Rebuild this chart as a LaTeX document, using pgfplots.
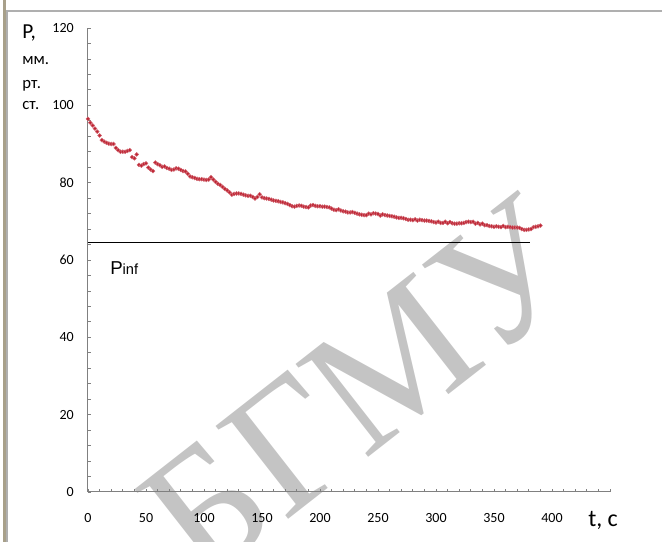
\documentclass[border=0pt]{standalone}
\usepackage{fontspec}
\setmainfont{Carlito}
\newfontfamily\arialf{Liberation Sans}
\newfontfamily\timesf{Liberation Serif}
\usepackage{pgfplots}
\pgfplotsset{compat=1.18}
\usepackage{pgfplotstable}

\definecolor{datared}{RGB}{190,35,50}
\definecolor{axgray}{RGB}{128,128,128}
\definecolor{wmgray}{RGB}{196,196,196}
\definecolor{framegray}{RGB}{175,175,175}
\definecolor{tan}{RGB}{168,160,138}

% t (s), P (mm Hg)
\pgfplotstableread{
t P
0 96.5
2 95.5
4 94.8
6 94.0
8 93.2
10 92.2
12 91.0
14 90.6
16 90.3
18 90.1
20 90.0
22 90.0
24 89.0
26 88.4
28 88.0
30 88.0
32 88.0
34 88.2
36 88.4
38 86.6
40 86.3
42 87.3
44 84.6
46 84.4
48 84.8
50 85.0
52 83.9
54 83.4
56 83.0
58 85.2
60 84.8
62 84.5
64 84.1
66 84.2
68 83.8
70 83.6
72 83.3
74 83.4
76 83.7
78 83.6
80 83.3
82 83.0
84 82.9
86 82.3
88 81.6
90 81.4
92 81.2
94 81.0
96 80.9
98 80.9
100 80.8
102 80.7
104 80.8
106 81.4
108 80.8
110 80.2
112 79.7
114 79.4
116 78.9
118 78.4
120 78.0
122 77.5
124 76.9
126 77.1
128 77.2
130 77.2
132 77.1
134 76.9
136 76.7
138 76.6
140 76.6
142 76.3
144 75.9
146 76.3
148 77.0
150 76.2
152 76.0
154 75.9
156 75.8
158 75.6
160 75.4
162 75.3
164 75.2
166 75.0
168 74.9
170 74.7
172 74.5
174 74.2
176 73.9
178 73.8
180 74.0
182 74.1
184 74.0
186 73.8
188 73.7
190 73.6
192 74.1
194 74.2
196 74.0
198 73.9
200 73.9
202 73.8
204 73.8
206 73.7
208 73.6
210 73.3
212 73.0
214 72.9
216 73.1
218 72.8
220 72.6
222 72.5
224 72.3
226 72.3
228 72.4
230 72.2
232 72.0
234 71.8
236 71.7
238 71.6
240 71.6
242 72.0
244 71.8
246 72.1
248 72.0
250 71.9
252 71.5
254 71.8
256 71.6
258 71.5
260 71.4
262 71.3
264 71.2
266 71.0
268 70.9
270 70.9
272 70.8
274 70.6
276 70.4
278 70.4
280 70.3
282 70.5
284 70.2
286 70.4
288 70.3
290 70.2
292 70.2
294 70.1
296 70.0
298 69.8
300 69.7
302 69.9
304 69.6
306 69.6
308 69.9
310 69.5
312 69.8
314 69.5
316 69.4
318 69.4
320 69.5
322 69.5
324 69.6
326 69.8
328 69.9
330 69.8
332 69.9
334 69.4
336 69.6
338 69.2
340 69.4
342 69.0
344 69.0
346 68.8
348 68.7
350 68.6
352 68.7
354 68.6
356 68.5
358 68.8
360 68.5
362 68.6
364 68.5
366 68.4
368 68.4
370 68.4
372 68.3
374 68.0
376 67.8
378 67.8
380 67.9
382 68.0
384 68.5
386 68.6
388 68.7
390 68.9
}\pressure

\begin{document}
\begin{tikzpicture}
% page = 662x542 px, 1px = 0.75pt, axis origin at pixel (88,492)
\useasboundingbox (-66pt,-37.5pt) rectangle (430.5pt,369pt);
\fill[tan] (-63.75pt,-37.5pt) rectangle (-61.5pt,369pt);
\draw[framegray, line width=1pt] (-60.75pt,-37.5pt) -- (-60.75pt,360.75pt) -- (430.5pt,360.75pt);
\node[rotate=38, text=wmgray, inner sep=0pt] at (204.75pt,77.25pt)
  {\timesf\fontsize{135}{135}\selectfont БГМУ};

\begin{axis}[
    scale only axis,
    width=391.5pt, height=348pt,
    xmin=0, xmax=450,
    ymin=0, ymax=120,
    axis lines=left,
    x axis line style={-, axgray, line width=0.75pt},
    y axis line style={-, axgray, line width=0.75pt},
    tick align=inside,
    tick style={axgray, line width=0.6pt},
    major tick length=2.6pt,
    minor tick length=2.6pt,
    xtick={0,50,...,450},
    xticklabels={0,50,100,150,200,250,300,350,400,{}},
    minor x tick num=4,
    ytick={0,20,...,120},
    yticklabels={0,20,40,60,80,100,120},
    minor y tick num=4,
    tick label style={font=\fontsize{10.5}{12}\selectfont, text=black},
    xticklabel style={anchor=center, inner sep=0pt, yshift=-19.5pt},
    yticklabel style={anchor=east, inner sep=0pt, xshift=-10.5pt},
    clip=false,
]
\addplot[black, line width=0.75pt] coordinates {(0,64.65) (381,64.65)};
\addplot[only marks, mark=*, mark size=1.45pt, datared,
    mark options={draw=datared!70, fill=datared}] table[x=t, y=P] {\pressure};
\end{axis}

\node[anchor=base west, inner sep=0pt] at (-49.5pt,339.75pt) {\fontsize{16}{18}\selectfont P,};
\node[anchor=base west, inner sep=0pt] at (-49.5pt,320.25pt) {\fontsize{12.5}{14}\selectfont мм.};
\node[anchor=base west, inner sep=0pt] at (-49.5pt,302.25pt) {\fontsize{12.5}{14}\selectfont рт.};
\node[anchor=base west, inner sep=0pt] at (-49.5pt,286.5pt) {\fontsize{12.5}{14}\selectfont ст.};
\node[anchor=base west, inner sep=0pt] at (16.5pt,162.75pt)
  {\arialf\fontsize{14}{16}\selectfont P\fontsize{11}{13}\selectfont inf};
\node[anchor=base west, inner sep=0pt] at (375pt,-26.25pt) {\fontsize{18}{20}\selectfont t, c};
\end{tikzpicture}
\end{document}
